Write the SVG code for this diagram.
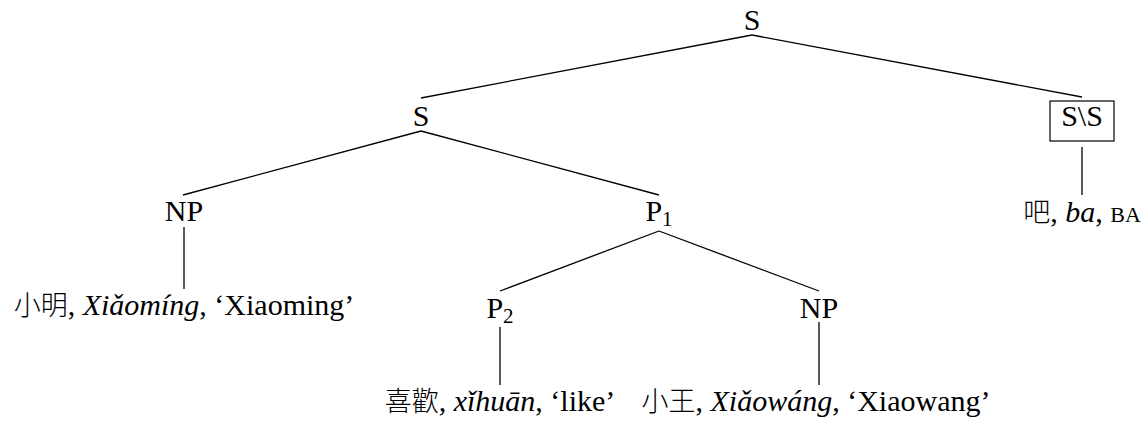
<svg xmlns="http://www.w3.org/2000/svg" width="1148" height="424" viewBox="0 0 1148 424">
<style>
text{font-family:"Liberation Serif","Noto Sans CJK TC",serif;font-size:30px;fill:#000;text-anchor:middle}
.cjk{font-family:"Noto Sans CJK TC","Noto Sans CJK SC",sans-serif;font-weight:300;font-size:27px}
.it{font-style:italic}
.sc{font-size:22px}
.sub{font-size:21px}
.edge{stroke:#000;stroke-width:1.3;fill:none}
.box{stroke:#000;stroke-width:1.2;fill:#fff}
</style>
<rect width="1148" height="424" fill="#fff"/>
<g id="connectors">
<line class="edge" x1="752" y1="35" x2="421" y2="98"/>
<line class="edge" x1="752" y1="35" x2="1082" y2="97"/>
<line class="edge" x1="421" y1="131" x2="183" y2="195"/>
<line class="edge" x1="421" y1="131" x2="659" y2="195"/>
<line class="edge" x1="184" y1="227" x2="184" y2="289"/>
<line class="edge" x1="659" y1="231" x2="500" y2="291"/>
<line class="edge" x1="659" y1="231" x2="819" y2="291"/>
<line class="edge" x1="500" y1="327" x2="500" y2="385"/>
<line class="edge" x1="819" y1="322" x2="819" y2="385"/>
<line class="edge" x1="1082" y1="147" x2="1082" y2="195"/>
</g>
<g id="n-root"><text x="752" y="30">S</text></g>
<g id="n-s"><text x="421" y="126">S</text></g>
<g id="n-ss"><rect class="box" x="1050" y="101" width="64" height="40"/><text x="1082" y="126">S\S</text></g>
<g id="n-np1"><text x="184" y="221">NP</text></g>
<g id="n-p1"><text x="659" y="221">P<tspan class="sub" dy="5">1</tspan></text></g>
<g id="n-p2"><text x="500" y="318">P<tspan class="sub" dy="5">2</tspan></text></g>
<g id="n-np2"><text x="819" y="318">NP</text></g>
<g id="leaf-xiaoming"><text x="184" y="315"><tspan class="cjk">小明</tspan>, <tspan class="it">Xiǎomíng</tspan>, ‘Xiaoming’</text></g>
<g id="leaf-xihuan"><text x="500" y="411"><tspan class="cjk">喜歡</tspan>, <tspan class="it">xǐhuān</tspan>, ‘like’</text></g>
<g id="leaf-xiaowang"><text x="816" y="411"><tspan class="cjk">小王</tspan>, <tspan class="it">Xiǎowáng</tspan>, ‘Xiaowang’</text></g>
<g id="leaf-ba"><text x="1082" y="222"><tspan class="cjk">吧</tspan>, <tspan class="it">ba</tspan>, <tspan class="sc">BA</tspan></text></g>
</svg>
